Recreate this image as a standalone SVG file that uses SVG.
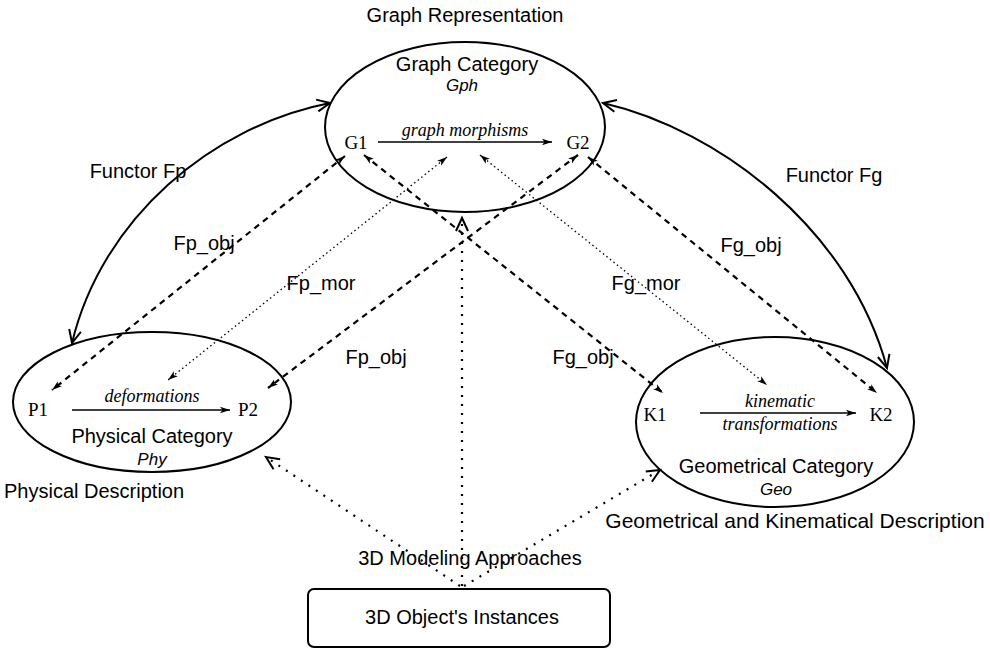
<svg xmlns="http://www.w3.org/2000/svg" width="990" height="649" viewBox="0 0 990 649">
<style>
  .t { font-family: "Liberation Sans", Arial, sans-serif; font-size: 20px; fill: #000; }
  .n { font-family: "Liberation Serif", "Times New Roman", serif; font-size: 19px; fill: #000; }
  .i { font-family: "Liberation Serif", "Times New Roman", serif; font-size: 18px; font-style: italic; fill: #000; }
  .si { font-family: "Liberation Sans", Arial, sans-serif; font-size: 17px; font-style: italic; fill: #000; }
  .shape { fill: none; stroke: #000; stroke-width: 2; }
  .solid { fill: none; stroke: #000; stroke-width: 2; }
  .thin { fill: none; stroke: #000; stroke-width: 1.6; }
  .dash { fill: none; stroke: #000; stroke-width: 2.2; stroke-dasharray: 6 5; }
  .dot { fill: none; stroke: #000; stroke-width: 1.3; stroke-dasharray: 1.5 3; }
  .cdot { fill: none; stroke: #000; stroke-width: 2.2; stroke-dasharray: 2 7; }
</style>
<defs>
  <marker id="fa" markerUnits="userSpaceOnUse" markerWidth="14" markerHeight="10" refX="10" refY="4" orient="auto-start-reverse">
    <path d="M0,0.8 L10,4 L0,7.2 L2.5,4 z" fill="#000"/>
  </marker>
  <marker id="ov" markerUnits="userSpaceOnUse" markerWidth="18" markerHeight="14" refX="14" refY="7" orient="auto-start-reverse">
    <path d="M1,1 L14,7 L1,13" fill="none" stroke="#000" stroke-width="2"/>
  </marker>
</defs>

<g id="graph-category">
  <ellipse class="shape" cx="465" cy="127" rx="140" ry="85"/>
  <text class="t" x="465" y="22" text-anchor="middle">Graph Representation</text>
  <text class="t" x="467" y="71" text-anchor="middle">Graph Category</text>
  <text class="si" x="462" y="91" text-anchor="middle">Gph</text>
  <text class="n" x="356" y="149" text-anchor="middle">G1</text>
  <text class="n" x="578" y="149" text-anchor="middle">G2</text>
  <text class="i" x="465" y="136" text-anchor="middle">graph morphisms</text>
  <line class="thin" x1="378" y1="142" x2="552" y2="142" marker-end="url(#fa)"/>
</g>

<g id="physical-category">
  <ellipse class="shape" cx="152" cy="402" rx="139" ry="70"/>
  <text class="n" x="38" y="416" text-anchor="middle">P1</text>
  <text class="n" x="248" y="416" text-anchor="middle">P2</text>
  <text class="i" x="152" y="402" text-anchor="middle">deformations</text>
  <line class="thin" x1="72" y1="410" x2="230" y2="410" marker-end="url(#fa)"/>
  <text class="t" x="152" y="443" text-anchor="middle">Physical Category</text>
  <text class="si" x="152" y="465" text-anchor="middle">Phy</text>
  <text class="t" x="4" y="498">Physical Description</text>
</g>

<g id="geometrical-category">
  <ellipse class="shape" cx="775" cy="422" rx="139" ry="85"/>
  <text class="n" x="655" y="421" text-anchor="middle">K1</text>
  <text class="n" x="881" y="421" text-anchor="middle">K2</text>
  <text class="i" x="780" y="407" text-anchor="middle">kinematic</text>
  <text class="i" x="780" y="430" text-anchor="middle">transformations</text>
  <line class="thin" x1="700" y1="413" x2="856" y2="413" marker-end="url(#fa)"/>
  <text class="t" x="776" y="473" text-anchor="middle">Geometrical Category</text>
  <text class="si" x="776" y="495" text-anchor="middle">Geo</text>
  <text class="t" x="795" y="528" text-anchor="middle" style="font-size:21px">Geometrical and Kinematical Description</text>
</g>

<g id="instances">
  <rect class="shape" x="308" y="589" width="302" height="58" rx="6" ry="6"/>
  <text class="t" x="462" y="624" text-anchor="middle">3D Object's Instances</text>
</g>

<g id="connectors">
  <path class="solid" d="M330,103 C212,126 102,218 72,343" marker-start="url(#ov)" marker-end="url(#ov)"/>
  <path class="solid" d="M603,103 C720,130 850,230 887,368" marker-start="url(#ov)" marker-end="url(#ov)"/>
  <line class="dash" x1="345" y1="156" x2="52" y2="390" marker-start="url(#fa)" marker-end="url(#fa)"/>
  <line class="dash" x1="364" y1="155" x2="663" y2="393" marker-start="url(#fa)" marker-end="url(#fa)"/>
  <line class="dash" x1="578" y1="155" x2="268" y2="388" marker-start="url(#fa)" marker-end="url(#fa)"/>
  <line class="dash" x1="588" y1="157" x2="877" y2="393" marker-start="url(#fa)" marker-end="url(#fa)"/>
  <line class="dot" x1="447" y1="157" x2="168" y2="380" marker-start="url(#fa)" marker-end="url(#fa)"/>
  <line class="dot" x1="480" y1="155" x2="767" y2="385" marker-start="url(#fa)" marker-end="url(#fa)"/>
  <line class="cdot" x1="462" y1="586" x2="462" y2="218" marker-end="url(#ov)"/>
  <line class="cdot" x1="460" y1="586" x2="266" y2="457" marker-end="url(#ov)"/>
  <line class="cdot" x1="464" y1="586" x2="660" y2="470" marker-end="url(#ov)"/>
  <text class="t" x="138" y="178" text-anchor="middle">Functor Fp</text>
  <text class="t" x="834" y="182" text-anchor="middle">Functor Fg</text>
  <text class="t" x="204" y="250" text-anchor="middle">Fp_obj</text>
  <text class="t" x="751" y="252" text-anchor="middle">Fg_obj</text>
  <text class="t" x="321" y="290" text-anchor="middle">Fp_mor</text>
  <text class="t" x="646" y="290" text-anchor="middle">Fg_mor</text>
  <text class="t" x="376" y="364" text-anchor="middle">Fp_obj</text>
  <text class="t" x="583" y="364" text-anchor="middle">Fg_obj</text>
  <text class="t" x="470" y="565" text-anchor="middle">3D Modeling Approaches</text>
</g>
</svg>
